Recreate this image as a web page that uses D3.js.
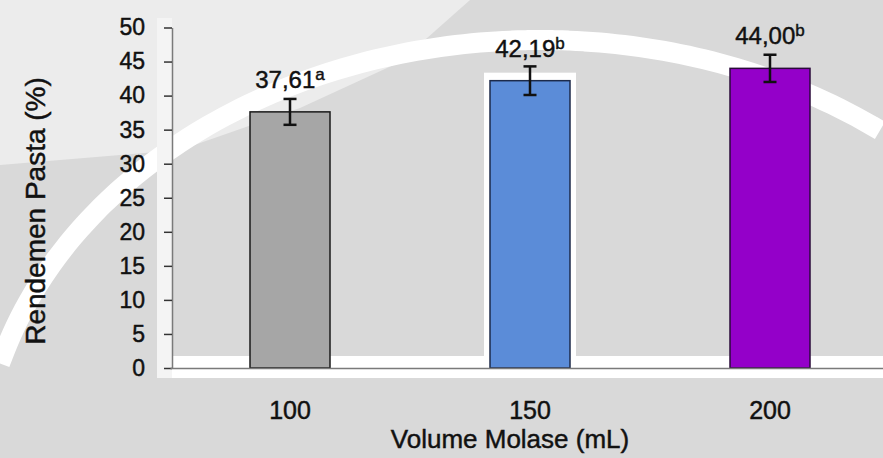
<!DOCTYPE html>
<html>
<head>
<meta charset="utf-8">
<script src="https://cdn.jsdelivr.net/npm/d3@7"></script>
<style>
  html, body { margin: 0; padding: 0; background: #ffffff; }
  svg { display: block; font-family: "Liberation Sans", Arial, sans-serif; }
  text { stroke: #111111; stroke-width: 0.45px; }
</style>
</head>
<body>
<svg id="chart" width="883" height="458"></svg>
<script>
// Rendemen pasta per volume molase
const categories = ["100", "150", "200"];
const values = [37.61, 42.19, 44.00];
const errors = [1.9, 2.1, 2.0];
const letters = ["a", "b", "b"];
const barColors = ["#a6a6a6", "#5b8cd8", "#9400c9"];
const barStrokes = ["#1a1a1a", "#1c2a4a", "#2a0a3a"];
const yTicks = [0, 5, 10, 15, 20, 25, 30, 35, 40, 45, 50];
const xTitle = "Volume Molase (mL)";
const yTitle = "Rendemen Pasta (%)";

const W = 883, H = 458;
const svg = d3.select("#chart");

// page background tones
const bg = svg.append("g");
bg.append("rect").attr("width", W).attr("height", H).attr("fill", "#d9d9d9");
bg.append("path")
  .attr("d", "M0,0 L470,0 L400,62 L300,108 L180,150 L0,165 Z")
  .attr("fill", "#ececec");
const arc = d3.range(0, 884, 8).map(px => {
  const cx = 540, cy = 480, rx = 560, ry = 440;
  const t = Math.max(0, 1 - ((px - cx) / rx) ** 2);
  return [px, cy - ry * Math.sqrt(t)];
});
bg.append("path")
  .attr("d", d3.line().curve(d3.curveBasis)(arc))
  .attr("fill", "none").attr("stroke", "#ffffff").attr("stroke-width", 20);

const y = d3.scaleLinear().domain([0, 50]).range([368, 27.5]);
const x = d3.scaleBand().domain(categories).range([170, 890])
  .paddingInner(2 / 3).paddingOuter(1 / 3);

// light strips along the axes
bg.append("rect").attr("x", 157).attr("y", 18).attr("width", 15).attr("height", 360).attr("fill", "#f4f4f4");
bg.append("rect").attr("x", 172).attr("y", 356).attr("width", W - 172).attr("height", 22).attr("fill", "#ffffff");

const data = categories.map((c, i) => ({
  c, v: values[i], e: errors[i], s: letters[i], fill: barColors[i], stroke: barStrokes[i]
}));

// bars
const bars = svg.append("g");
bars.append("rect")
  .attr("x", x("150") - 6).attr("y", y(values[1]) - 8)
  .attr("width", x.bandwidth() + 12).attr("height", y(0) - y(values[1]) + 8)
  .attr("fill", "#ffffff");
bars.selectAll("rect.bar").data(data).join("rect")
  .attr("class", "bar")
  .attr("x", d => x(d.c))
  .attr("y", d => y(d.v))
  .attr("width", x.bandwidth())
  .attr("height", d => y(0) - y(d.v))
  .attr("fill", d => d.fill)
  .attr("stroke", d => d.stroke)
  .attr("stroke-width", 1.5);

// error bars
const cap = 6.5;
const eb = svg.append("g").attr("stroke", "#111111").attr("stroke-width", 2.5);
data.forEach(d => {
  const cx = x(d.c) + x.bandwidth() / 2;
  eb.append("line").attr("x1", cx).attr("x2", cx).attr("y1", y(d.v + d.e)).attr("y2", y(d.v - d.e));
  eb.append("line").attr("x1", cx - cap).attr("x2", cx + cap).attr("y1", y(d.v + d.e)).attr("y2", y(d.v + d.e));
  eb.append("line").attr("x1", cx - cap).attr("x2", cx + cap).attr("y1", y(d.v - d.e)).attr("y2", y(d.v - d.e));
});

// value labels with significance letters
const fmt = v => d3.format(".2f")(v).replace(".", ",");
const labels = svg.append("g").attr("fill", "#111111");
data.forEach(d => {
  const t = labels.append("text")
    .attr("x", x(d.c) + x.bandwidth() / 2)
    .attr("y", y(d.v) - 24)
    .attr("text-anchor", "middle")
    .attr("font-size", 24);
  t.append("tspan").text(fmt(d.v));
  t.append("tspan").attr("font-size", 17).attr("dy", -8).text(d.s);
});

// y axis
const yAxis = svg.append("g")
  .attr("transform", "translate(172,0)")
  .call(d3.axisLeft(y).tickValues(yTicks).tickSize(8).tickSizeOuter(0).tickPadding(19));
yAxis.select(".domain").attr("stroke", "#7a7a7a").attr("stroke-width", 1.5);
yAxis.selectAll(".tick line").attr("stroke", "#333333").attr("stroke-width", 1.5);
yAxis.selectAll(".tick text").attr("font-size", 23).attr("fill", "#111111")
  .attr("font-family", "Liberation Sans, Arial, sans-serif");

// x axis
const xAxis = svg.append("g")
  .attr("transform", `translate(0,${y(0)})`)
  .call(d3.axisBottom(x).tickSize(0).tickPadding(33));
xAxis.select(".domain").attr("stroke", "#7a7a7a").attr("stroke-width", 1.5);
xAxis.selectAll(".tick text").attr("font-size", 25).attr("fill", "#111111")
  .attr("font-family", "Liberation Sans, Arial, sans-serif");

// axis titles
svg.append("text")
  .attr("x", 510).attr("y", 448)
  .attr("text-anchor", "middle")
  .attr("font-size", 26).attr("fill", "#111111")
  .text(xTitle);
svg.append("text")
  .attr("transform", "translate(45,211) rotate(-90)")
  .attr("text-anchor", "middle")
  .attr("font-size", 28).attr("fill", "#111111")
  .text(yTitle);
</script>
</body>
</html>
